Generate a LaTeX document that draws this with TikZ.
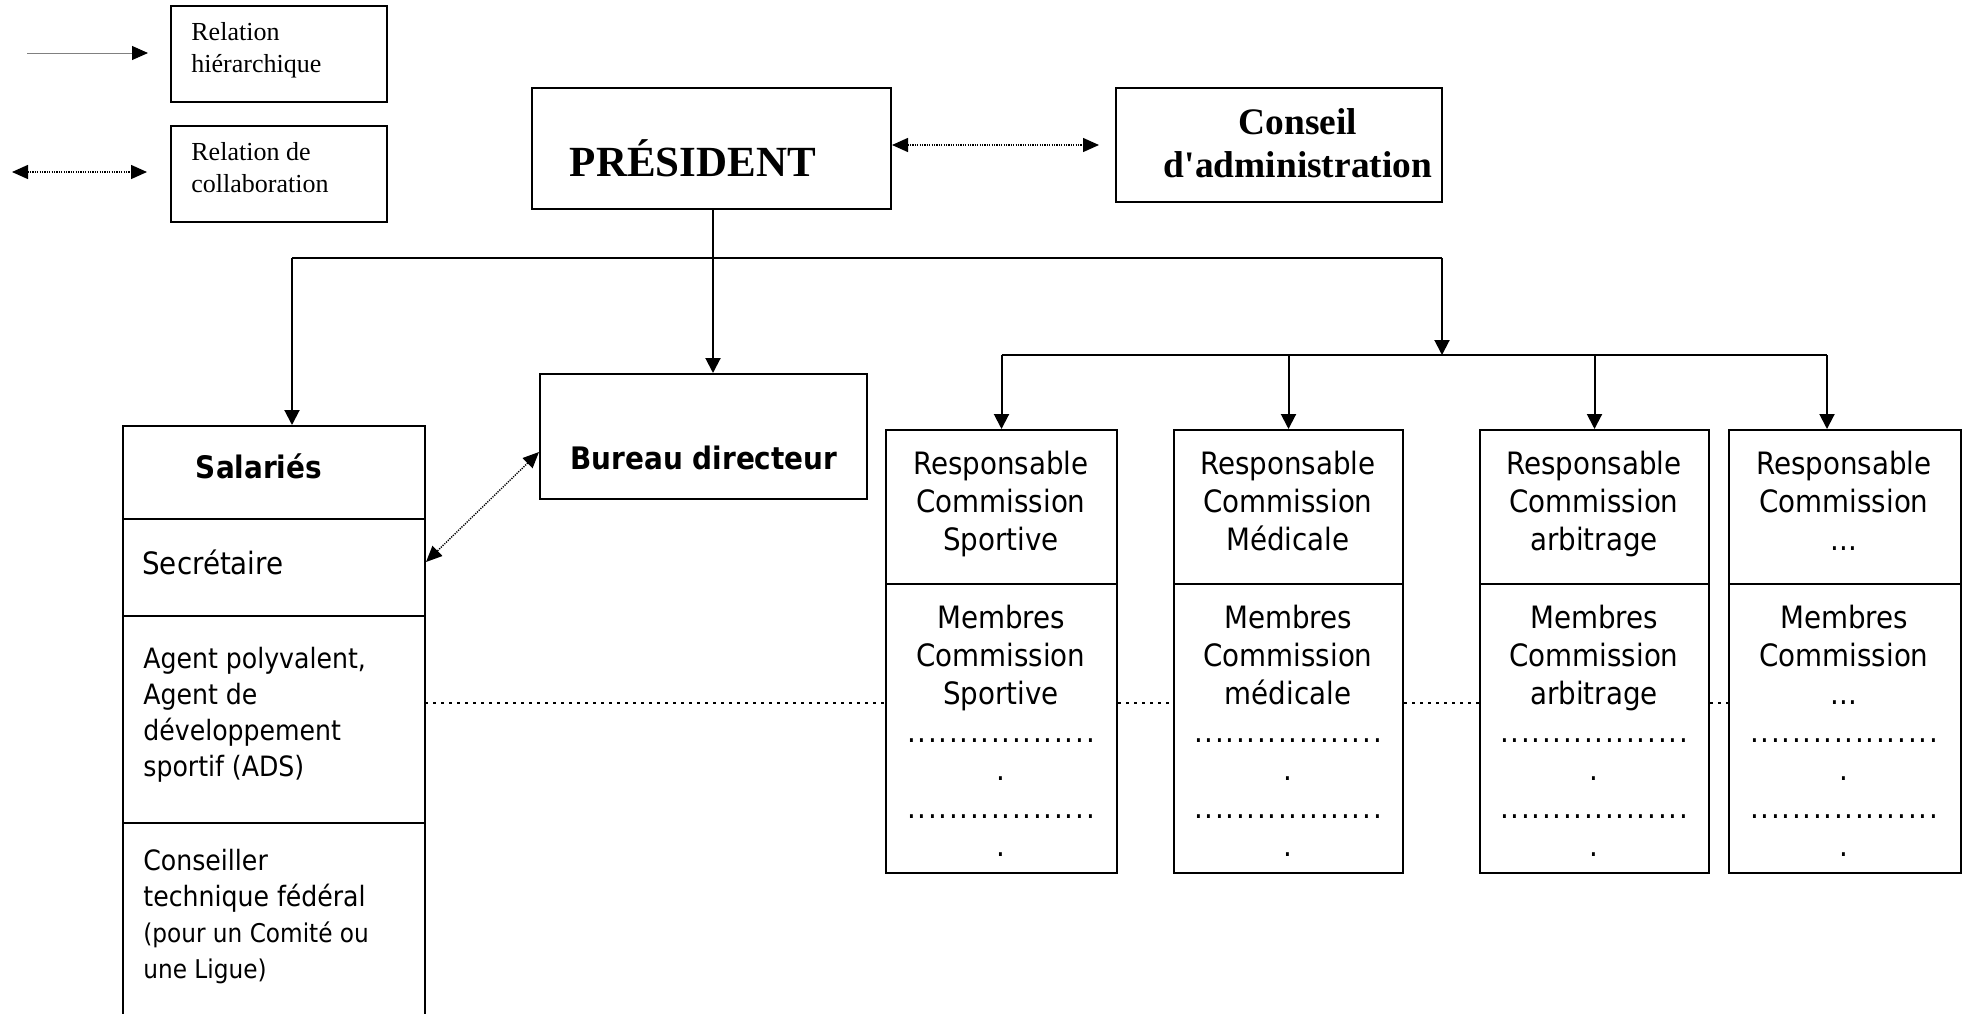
\documentclass[tikz,border=0pt]{standalone}
\usepackage{fontspec}
\setmainfont{DejaVu Sans Condensed}
\newfontfamily\serifR{Liberation Serif}
\usetikzlibrary{arrows.meta,fit,calc}
\newcommand\drow{\hbox to 94.5pt{\xleaders\hbox to 5.25pt{\hss.\hss}\hfill}}
\begin{document}
\begin{tikzpicture}[x=0.5pt,y=-0.5pt,
  box/.style={draw, line width=1pt, inner sep=0pt},
  hier/.style={line width=1pt, -{Triangle[length=7.5pt,width=7.5pt]}},
  collab/.style={line width=0.7pt, dash pattern=on 0.6pt off 0.6pt,
    {Triangle[length=8pt,width=7pt]}-{Triangle[length=8pt,width=7pt]}},
  rowdot/.style={line width=1.4pt, dash pattern=on 1.3pt off 2.7pt},
  legtxt/.style={font={\serifR\fontsize{13}{16}\selectfont}, align=left, inner sep=0pt, anchor=north west},
  bigser/.style={font={\serifR\bfseries\fontsize{18.7}{21.3}\selectfont}, align=center, inner sep=0pt},
  cmtxt/.style={font={\fontsize{15.4}{19}\selectfont}, align=center, inner sep=0pt, anchor=north},
  smtxt/.style={font={\fontsize{14}{18}\selectfont}, align=left, inner sep=0pt, anchor=north west},
  bdtxt/.style={font={\bfseries\fontsize{15.5}{19}\selectfont}, inner sep=0pt}]
\useasboundingbox (0,0) rectangle (1966,1013);

% legend
\node[box, fit={(171,6) (387,102)}] (lg1) {};
\node[legtxt] (lg1t) at (191,22) {Relation\\hiérarchique};
\node[box, fit={(171,126) (387,222)}] (lg2) {};
\node[legtxt] (lg2t) at (191,142) {Relation de\\collaboration};
\coordinate (la1) at (27,53);
\coordinate (lb1) at (148,53);
\draw[gray, line width=0.5pt, -{Triangle[length=8pt,width=7pt,black]}] (la1) -- (lb1);
\coordinate (la2) at (12,172);
\coordinate (lb2) at (147,172);
\draw[collab] (la2) -- (lb2);

% top
\node[box, fit={(532,88) (891,209)}] (pres) {};
\node[bigser, font={\serifR\bfseries\fontsize{21.5}{24}\selectfont}] (prest) at (693,158) {PRÉSIDENT};
\node[box, fit={(1116,88) (1442,202)}] (cons) {};
\node[bigser] (const) at (1298,143) {Conseil\\d'administration};
\draw[collab, shorten >=8pt] (pres.east |- cons.west) -- (cons.west);

% bureau
\node[box, fit={(540,374) (867,499)}] (bur) {};
\node[bdtxt] (burt) at (704,458) {Bureau directeur};

% salaries
\node[box, fit={(123,426) (425,519)}] (sal) {};
\node[box, fit={(123,519) (425,616)}] (sec) {};
\node[box, fit={(123,616) (425,823)}] (agt) {};
\node[box, fit={(123,823) (425,1040)}] (cns) {};
\node[bdtxt] (salt) at (259,466) {Salariés};
\node[font={\fontsize{15.4}{19}\selectfont}, inner sep=0pt, anchor=west] (sect) at (142,562) {Secrétaire};
\node[smtxt] (agtt) at (143,647) {Agent polyvalent,\\Agent de\\développement\\sportif (ADS)};
\node[smtxt] (cnst) at (143,849) {Conseiller\\technique fédéral\\\fontsize{12.9}{18}\selectfont(pour un Comité ou\\\fontsize{12.9}{18}\selectfont une Ligue)};

\draw[collab] ([yshift=-7.75pt]bur.west) -- ([yshift=2.75pt]sec.east);

% commissions
\node[box, fit={(886,430) (1117,584)}] (c1a) {};
\node[box, fit={(886,584) (1117,873)}] (c1b) {};
\node[box, fit={(1174,430) (1403,584)}] (c2a) {};
\node[box, fit={(1174,584) (1403,873)}] (c2b) {};
\node[box, fit={(1480,430) (1709,584)}] (c3a) {};
\node[box, fit={(1480,584) (1709,873)}] (c3b) {};
\node[box, fit={(1729,430) (1961,584)}] (c4a) {};
\node[box, fit={(1729,584) (1961,873)}] (c4b) {};

\node[cmtxt] (c1at) at (1001,451) {Responsable\\Commission\\Sportive};
\node[cmtxt] (c2at) at (1288,451) {Responsable\\Commission\\Médicale};
\node[cmtxt] (c3at) at (1594,451) {Responsable\\Commission\\arbitrage};
\node[cmtxt] (c4at) at (1844,451) {Responsable\\Commission\\...};
\node[cmtxt] (c1bt) at (1001,605) {Membres\\Commission\\Sportive\\\drow\\.\\\drow\\.};
\node[cmtxt] (c2bt) at (1288,605) {Membres\\Commission\\médicale\\\drow\\.\\\drow\\.};
\node[cmtxt] (c3bt) at (1594,605) {Membres\\Commission\\arbitrage\\\drow\\.\\\drow\\.};
\node[cmtxt] (c4bt) at (1844,605) {Membres\\Commission\\...\\\drow\\.\\\drow\\.};

% hierarchy connectors
\coordinate (hl) at (292,258);
\coordinate (hr) at (1442,258);
\coordinate (h2r) at (1827,355);
\draw[line width=1pt] (hl) -- (hr);
\draw[hier] (pres.south -| 713,0) -- (bur.north -| 713,0);
\draw[hier] (hl) -- (hl |- sal.north);
\draw[hier] (hr) -- (hr |- h2r);
\draw[line width=1pt] (c1a.north |- h2r) -- (h2r);
\draw[hier] (c1a.north |- h2r) -- (c1a.north);
\draw[hier] (c2a.north |- h2r) -- (c2a.north);
\draw[hier] (c3a.north |- h2r) -- (c3a.north);
\draw[hier] (h2r) -- (h2r |- c4a.north);

% dotted row
\coordinate (r0) at (425,703);
\draw[rowdot] (r0) -- (r0 -| c1b.west);
\draw[rowdot] (r0 -| c1b.east) -- (r0 -| c2b.west);
\draw[rowdot] (r0 -| c2b.east) -- (r0 -| c3b.west);
\draw[rowdot] (r0 -| c3b.east) -- (r0 -| c4b.west);
\end{tikzpicture}
\end{document}
